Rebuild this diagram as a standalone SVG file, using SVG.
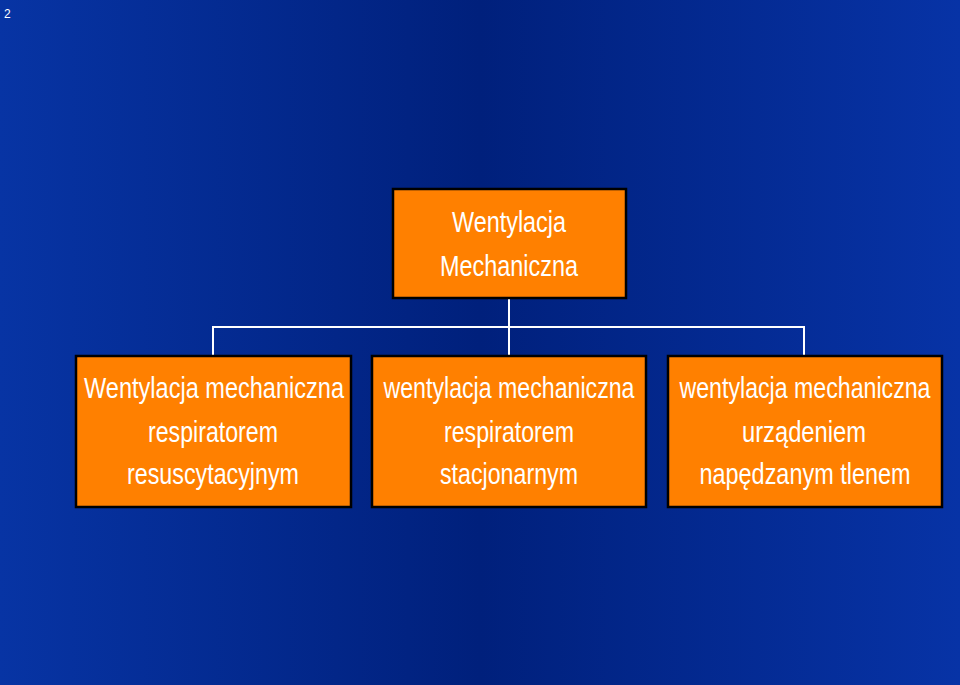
<svg xmlns="http://www.w3.org/2000/svg" width="960" height="685" viewBox="0 0 960 685">
<defs>
<linearGradient id="bg" x1="0" y1="0" x2="1" y2="0">
<stop offset="0" stop-color="#0734a4"/>
<stop offset="0.5" stop-color="#00207c"/>
<stop offset="1" stop-color="#0733a6"/>
</linearGradient>
</defs>
<style>
.box{fill:#ff8000;stroke:#000;stroke-width:2.5}
.t{font-family:"Liberation Sans",Arial,sans-serif;font-size:29px;fill:#fff;text-anchor:middle}
.c{stroke:#fff;stroke-width:2;fill:none}
</style>
<rect width="960" height="685" fill="url(#bg)"/>
<text x="4" y="18" font-family="Liberation Sans,Arial,sans-serif" font-size="12" fill="#fff">2</text>
<g id="connectors">
<path class="c" d="M509 298V327M213 356V327H804V356M509 327V356"/>
</g>
<g id="root">
<rect class="box" x="393" y="189" width="233" height="109"/>
<text class="t" x="509" y="232" textLength="114" lengthAdjust="spacingAndGlyphs">Wentylacja</text>
<text class="t" x="509" y="276" textLength="138" lengthAdjust="spacingAndGlyphs">Mechaniczna</text>
</g>
<g id="n1">
<rect class="box" x="76" y="356" width="275" height="151"/>
<text class="t" x="214" y="398" textLength="260" lengthAdjust="spacingAndGlyphs">Wentylacja mechaniczna</text>
<text class="t" x="213" y="442" textLength="130" lengthAdjust="spacingAndGlyphs">respiratorem</text>
<text class="t" x="213" y="484" textLength="172" lengthAdjust="spacingAndGlyphs">resuscytacyjnym</text>
</g>
<g id="n2">
<rect class="box" x="372" y="356" width="274" height="151"/>
<text class="t" x="509" y="398" textLength="251" lengthAdjust="spacingAndGlyphs">wentylacja mechaniczna</text>
<text class="t" x="509" y="442" textLength="130" lengthAdjust="spacingAndGlyphs">respiratorem</text>
<text class="t" x="509" y="484" textLength="138" lengthAdjust="spacingAndGlyphs">stacjonarnym</text>
</g>
<g id="n3">
<rect class="box" x="668" y="356" width="274" height="151"/>
<text class="t" x="805" y="398" textLength="251" lengthAdjust="spacingAndGlyphs">wentylacja mechaniczna</text>
<text class="t" x="804" y="442" textLength="124" lengthAdjust="spacingAndGlyphs">urządeniem</text>
<text class="t" x="805" y="484" textLength="211" lengthAdjust="spacingAndGlyphs">napędzanym tlenem</text>
</g>
</svg>
